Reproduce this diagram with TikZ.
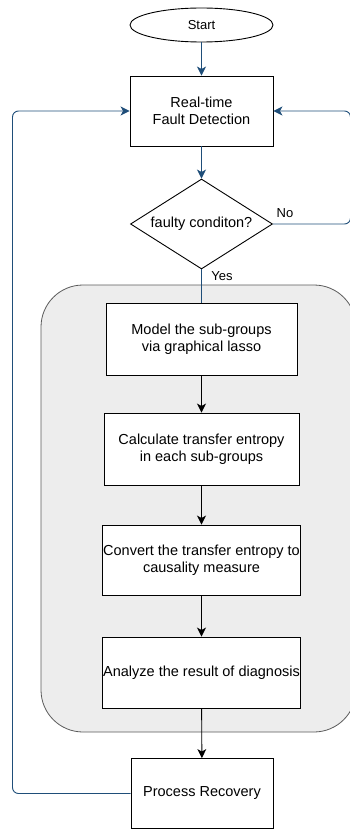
\documentclass[tikz,border=0pt]{standalone}
\usepackage{fontspec}
\setmainfont{Liberation Sans}
\usetikzlibrary{shapes.geometric,arrows.meta}
\definecolor{flowblue}{RGB}{31,78,121}
\definecolor{panelgray}{RGB}{237,237,237}
\definecolor{panelline}{RGB}{90,90,90}
\begin{document}
\begin{tikzpicture}[x=1pt,y=-1pt,
  every node/.style={font=\fontsize{14.5}{17.5}\selectfont},
  box/.style={draw=black,fill=white,line width=0.9pt,rectangle,inner sep=1pt,align=center},
  blueline/.style={draw=flowblue,line width=0.9pt,rounded corners=6pt},
  bluearrow/.style={blueline,-{Stealth[length=9pt,width=9pt,inset=2.5pt]}},
  blackarrow/.style={draw=black,line width=0.9pt,-{Stealth[length=9pt,width=9pt,inset=2.5pt]}},
  lbl/.style={font=\fontsize{13}{15}\selectfont,inner sep=0pt}
]
\useasboundingbox (0,0) rectangle (350,829);
% panel
\draw[fill=panelgray,draw=panelline,line width=0.8pt,rounded corners=42pt] (41,285) rectangle (356,732);
% nodes
\node[draw=black,fill=white,line width=0.9pt,ellipse,minimum width=143pt,minimum height=34pt,inner sep=0pt,font=\fontsize{13}{15}\selectfont] (start) at (201.5,25) {Start};
\node[box,minimum width=143pt,minimum height=70pt] (rt) at (201.5,111) {Real-time\\Fault Detection};
\node[draw=black,fill=white,line width=0.9pt,diamond,aspect=1.58,minimum width=142pt,minimum height=90pt,inner sep=0pt] (dec) at (201.5,224) {faulty conditon?};
\node[box,minimum width=191pt,minimum height=72pt] (m1) at (201.5,339) {Model the sub-groups\\via graphical lasso};
\node[box,minimum width=195pt,minimum height=72pt] (m2) at (201.5,449) {Calculate transfer entropy\\in each sub-groups};
\node[box,minimum width=195pt,minimum height=70pt] (m3) at (201.5,560) {Convert the transfer entropy to\\causality measure};
\node[box,minimum width=195pt,minimum height=71pt] (m4) at (201.5,672.5) {Analyze the result of diagnosis};
\node[box,minimum width=142pt,minimum height=70pt] (pr) at (202,793.5) {Process Recovery};
% labels
\node[lbl] (no) at (285,213) {No};
\node[lbl] (yes) at (222,276) {Yes};
% helper coordinates
\coordinate (rtop) at (350.5,111);
\coordinate (rbot) at (350.5,224);
\coordinate (ltop) at (12.5,111);
\coordinate (lbot) at (12.5,793.5);
% connectors
\draw[bluearrow] (start) -- (rt);
\draw[bluearrow] (rt) -- (dec);
\draw[blueline] (dec.south) -- (m1.north);
\draw[bluearrow] (dec.east) -- (rbot) -- (rtop) -- (rt.east);
\draw[bluearrow] (pr.west) -- (lbot) -- (ltop) -- (rt.west);
\draw[blackarrow] (m1) -- (m2);
\draw[blackarrow] (m2) -- (m3);
\draw[blackarrow] (m3) -- (m4);
\draw[blackarrow] (m4) -- (pr);
\end{tikzpicture}
\end{document}
